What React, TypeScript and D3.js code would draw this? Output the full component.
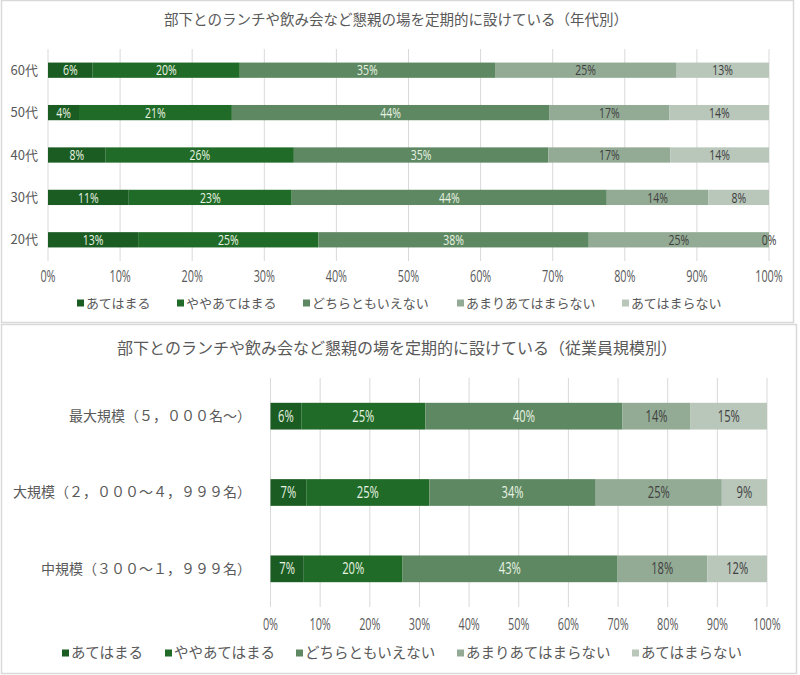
import React from "react";
import * as d3 from "d3";

const seriesNames = ["あてはまる", "ややあてはまる", "どちらともいえない", "あまりあてはまらない", "あてはまらない"];
const seriesColors = ["#1b5c22", "#216b28", "#5e8862", "#93ab95", "#b9c6ba"];
const labelColors = ["#e8f3e2", "#e8f3e2", "#e8f3e2", "#404040", "#404040"];

const ageCategories = ["60代", "50代", "40代", "30代", "20代"];
const age60 = [6.2, 20.4, 35.4, 25.1, 12.9];
const age50 = [4.3, 21.2, 44.0, 16.7, 13.8];
const age40 = [8.0, 26.1, 35.3, 16.9, 13.7];
const age30 = [11.2, 22.6, 43.7, 14.1, 8.4];
const age20 = [12.5, 25.0, 37.5, 25.0, 0];

const sizeCategories = ["最大規模（５，０００名～）", "大規模（２，０００～４，９９９名）", "中規模（３００～１，９９９名）"];
const sizeMax = [6.2, 25.0, 39.7, 13.7, 15.4];
const sizeLarge = [7.2, 24.8, 33.5, 25.4, 9.1];
const sizeMid = [6.7, 19.9, 43.2, 18.2, 12.0];

const tickValues = [0, 10, 20, 30, 40, 50, 60, 70, 80, 90, 100];

const title1 = "部下とのランチや飲み会など懇親の場を定期的に設けている（年代別）";
const title2 = "部下とのランチや飲み会など懇親の場を定期的に設けている（従業員規模別）";

const JP = "'Noto Sans CJK JP', 'Noto Sans', sans-serif";
const NUM = "'Open Sans', 'Noto Sans', sans-serif";
const TXT = "#595959";

function NarrowText(props: { x: number; y: number; size: number; fill: string; anchor?: string; children: React.ReactNode }) {
  return (
    <text transform={`translate(${props.x},${props.y}) scale(0.7,1)`} dy="0.35em" textAnchor={props.anchor || "middle"}
      fontFamily={NUM} fontSize={props.size} fill={props.fill}>
      {props.children}
    </text>
  );
}

type PanelProps = {
  cats: string[];
  rows: number[][];
  x0: number; x1: number; y0: number; y1: number;
  padding: number;
  catX: number; catSize: number;
  tickY: number;
  legendY: number; legendXs: number[]; legendSize: number;
  barFont: number;
};

function Panel(p: PanelProps) {
  const x = d3.scaleLinear().domain([0, 100]).range([p.x0, p.x1]);
  const y = d3.scaleBand<string>().domain(p.cats).range([p.y0, p.y1]).paddingInner(p.padding).paddingOuter(p.padding / 2);
  const stacks = p.rows.map((r) => {
    let acc = 0;
    return r.map((v) => {
      const s = acc;
      acc += v;
      return [s, acc, v];
    });
  });
  const bw = y.bandwidth();
  return (
    <g>
      {tickValues.map((t) => (
        <line key={"g" + t} x1={x(t)} x2={x(t)} y1={p.y0} y2={p.y1} stroke="#d9d9d9" strokeWidth={1} />
      ))}
      {p.cats.map((c, i) => (
        <g key={c}>
          {stacks[i].map(([s, e, v], j) => (
            <rect key={j} x={x(s)} y={y(c)} width={Math.max(0, x(e) - x(s))} height={bw} fill={seriesColors[j]} />
          ))}
          {stacks[i].map(([s, e, v], j) => (
            <NarrowText key={"t" + j} x={(x(s) + x(e)) / 2} y={(y(c) as number) + bw / 2} size={p.barFont} fill={labelColors[j]}>
              {Math.round(v)}%
            </NarrowText>
          ))}
          <text x={p.catX} y={(y(c) as number) + bw / 2} dy="0.35em" textAnchor="end" fontFamily={JP} fontSize={p.catSize} fill={TXT}>{c}</text>
        </g>
      ))}
      {tickValues.map((t) => (
        <NarrowText key={"tk" + t} x={x(t)} y={p.tickY} size={15.5} fill={TXT}>{t}%</NarrowText>
      ))}
      {seriesNames.map((n, j) => (
        <g key={n}>
          <rect x={p.legendXs[j]} y={p.legendY - 3.5} width={7} height={7} fill={seriesColors[j]} />
          <text x={p.legendXs[j] + 9} y={p.legendY} dy="0.35em" fontFamily={JP} fontSize={p.legendSize} fill={TXT}>{n}</text>
        </g>
      ))}
    </g>
  );
}

export default function App() {
  return (
    <svg width={800} height={675} style={{ position: "absolute", left: 0, top: 0, background: "#fff" }}>
      <rect x={0} y={0} width={800} height={675} fill="#fff" />
      <rect x={1.5} y={0.5} width={792} height={322} fill="none" stroke="#d9d9d9" strokeWidth={1.5} />
      <rect x={1.5} y={324.5} width={795} height={349} fill="none" stroke="#d9d9d9" strokeWidth={1.5} />
      <text x={396} y={20} dy="0.35em" textAnchor="middle" fontFamily={JP} fontSize={14.5} fill={TXT}>{title1}</text>
      <text x={397} y={348} dy="0.35em" textAnchor="middle" fontFamily={JP} fontSize={16} fill={TXT}>{title2}</text>
      <Panel cats={ageCategories} rows={[age60, age50, age40, age30, age20]}
        x0={48} x1={769} y0={49} y1={261} padding={0.64}
        catX={38} catSize={13} tickY={277} legendY={303}
        legendXs={[77, 177, 303, 457, 622]} legendSize={13} barFont={15} />
      <Panel cats={sizeCategories} rows={[sizeMax, sizeLarge, sizeMid]}
        x0={270.5} x1={767} y0={378} y1={607} padding={0.65}
        catX={251} catSize={14} tickY={625} legendY={653}
        legendXs={[62, 165, 296, 457, 632]} legendSize={14.5} barFont={16} />
    </svg>
  );
}
